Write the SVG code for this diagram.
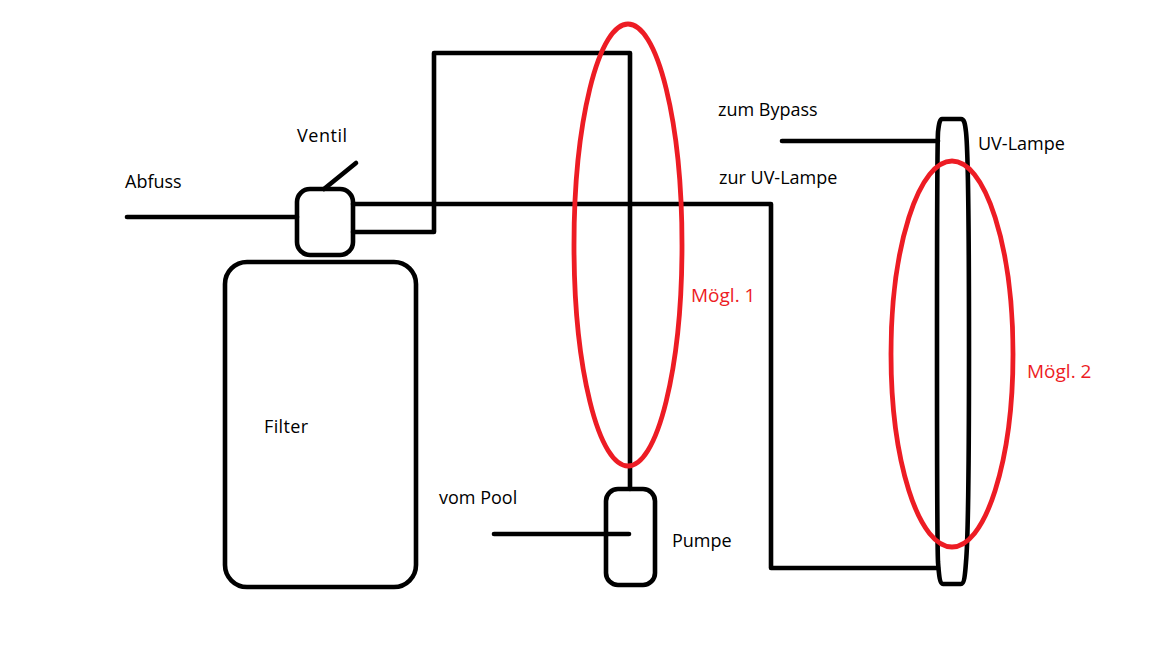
<svg xmlns="http://www.w3.org/2000/svg" width="1152" height="648" viewBox="0 0 1152 648">
<style>
.l{fill:none;stroke:#000;stroke-width:4.6;stroke-linejoin:round;stroke-linecap:round}
.r{fill:none;stroke:#ed1c24;stroke-width:4.8}
text{font-family:"Open Sans","Noto Sans",sans-serif;font-size:18px;fill:#000}
.m{fill:#ed1c24;font-size:19px}
</style>
<rect width="1152" height="648" fill="#fff"/>
<g id="connectors">
<path class="l" d="M127 217H297"/>
<path class="l" d="M324 189L356 163"/>
<path class="l" d="M353 232H434V53H630V489"/>
<path class="l" d="M353 204H771V568H938"/>
<path class="l" d="M494 534H629"/>
<path class="l" d="M782 141H938"/>
</g>
<g id="filter"><rect class="l" x="225" y="262" width="191" height="325" rx="22"/><text x="264" y="433" textLength="44">Filter</text></g>
<g id="ventil"><rect class="l" x="297" y="189" width="56" height="66" rx="13"/><text x="297" y="142" textLength="50">Ventil</text></g>
<g id="pumpe"><rect class="l" x="606" y="489" width="49" height="96" rx="12"/><text x="672" y="547">Pumpe</text></g>
<g id="uv-lampe"><path class="l" d="M942 119H961C964 119 965 123 966 132C968 150 969 190 969 350C969 500 968 540 966 562C965 576 964 584 961 584H943C940 584 939 576 938 562C937 540 937 500 937 350C937 190 937 150 938 132C939 123 940 119 942 119Z"/><text x="978" y="150">UV-Lampe</text></g>
<g id="labels">
<text x="125" y="188">Abfuss</text>
<text x="439" y="504">vom Pool</text>
<text x="718" y="116">zum Bypass</text>
<text x="719" y="184">zur UV-Lampe</text>
</g>
<g id="moegl-1"><ellipse class="r" cx="628" cy="245" rx="54" ry="221"/><text class="m" x="691" y="302">Mögl. 1</text></g>
<g id="moegl-2"><ellipse class="r" cx="952" cy="354" rx="61" ry="193"/><text class="m" x="1027" y="378">Mögl. 2</text></g>
</svg>
